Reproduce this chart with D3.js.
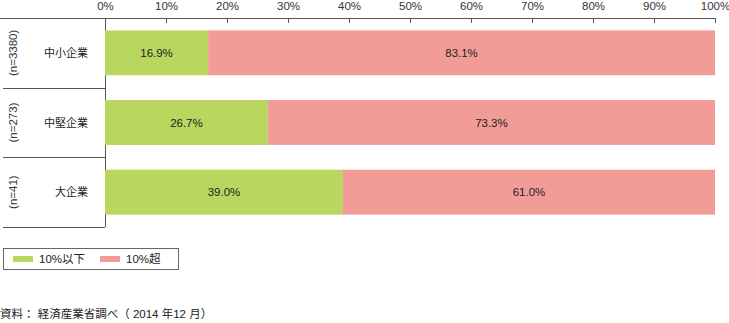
<!DOCTYPE html>
<html><head><meta charset="utf-8">
<script src="https://cdn.jsdelivr.net/npm/d3@7/dist/d3.min.js"></script>
<style>body{margin:0;background:#fff;}svg{display:block;font-family:"Liberation Sans","Noto Sans CJK JP",sans-serif;}</style>
</head><body><svg id="c" width="729" height="323"></svg>
<script>
const categories = ["中小企業", "中堅企業", "大企業"];
const sampleSizes = ["(n=3380)", "(n=273)", "(n=41)"];
const seriesNames = ["10%以下", "10%超"];
const lowValues = [16.9, 26.7, 39.0];
const highValues = [83.1, 73.3, 61.0];
const tickValues = [0,10,20,30,40,50,60,70,80,90,100];
const sourceText = "資料： 経済産業省調べ（ 2014 年12 月）";
const colors = ["#b9d65e", "#f29c98"];

const svg = d3.select("#c");
const x = d3.scaleLinear().domain([0,100]).range([105,715]);
const y = d3.scaleBand().domain(categories).range([18,227]).paddingInner(0.356).paddingOuter(0.178);
const band = d3.scaleBand().domain(categories).range([18,227]);

// top axis
const ax = svg.append("g").attr("transform","translate(0,18)")
  .call(d3.axisTop(x).tickValues(tickValues).tickSize(-5).tickPadding(3).tickFormat(d=>d+"%"));
ax.select(".domain").remove();
ax.selectAll(".tick line").attr("stroke","#555");
ax.selectAll(".tick text").attr("font-size",11.5).attr("fill","#333").attr("y",-3).attr("dy",0)
  .attr("transform","translate(0,-5)");
svg.append("line").attr("x1",0).attr("x2",715).attr("y1",18.5).attr("y2",18.5).attr("stroke","#555");
svg.append("line").attr("x1",105.5).attr("x2",105.5).attr("y1",18).attr("y2",227).attr("stroke","#555");
// left separators
categories.forEach(c=>{
  const yy = Math.round(band(c)+band.bandwidth())+0.5;
  svg.append("line").attr("x1",3).attr("x2",105).attr("y1",yy).attr("y2",yy).attr("stroke","#555");
});

const stack = categories.map((c,i)=>({c, vals:[lowValues[i], highValues[i]]}));
stack.forEach((d,i)=>{
  let acc = 0;
  d.vals.forEach((v,j)=>{
    svg.append("rect").attr("x",x(acc)).attr("y",y(d.c)).attr("width",x(acc+v)-x(acc)).attr("height",y.bandwidth())
      .attr("fill",colors[j]);
    svg.append("text").attr("x",(x(acc)+x(acc+v))/2).attr("y",y(d.c)+y.bandwidth()/2)
      .attr("text-anchor","middle").attr("dominant-baseline","central").attr("font-size",11.5).attr("fill","#222")
      .text(v.toFixed(1)+"%");
    acc += v;
  });
  const cy = band(d.c)+band.bandwidth()/2;
  svg.append("text").attr("x",88).attr("y",cy).attr("text-anchor","end").attr("dominant-baseline","central")
    .attr("font-size",11).attr("fill","#222").text(d.c);
  svg.append("text").attr("transform",`translate(13,${cy}) rotate(-90)`).attr("text-anchor","middle")
    .attr("dominant-baseline","central").attr("font-size",11.5).attr("fill","#333").text(sampleSizes[i]);
});

// legend
svg.append("rect").attr("x",3.5).attr("y",248.5).attr("width",175).attr("height",21).attr("fill","none").attr("stroke","#666");
const lx = [13, 100];
seriesNames.forEach((s,i)=>{
  svg.append("rect").attr("x",lx[i]).attr("y",256).attr("width",20).attr("height",6).attr("fill",colors[i]);
  svg.append("text").attr("x",lx[i]+26).attr("y",259).attr("dominant-baseline","central").attr("font-size",11.5).attr("fill","#222").text(s);
});
svg.append("text").attr("x",0).attr("y",318).attr("font-size",11.5).attr("fill","#222").text(sourceText);
</script></body></html>
